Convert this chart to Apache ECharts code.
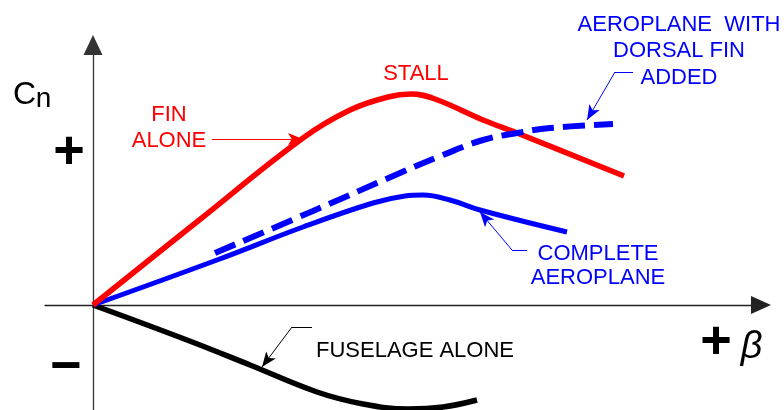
<!DOCTYPE html>
<html>
<head>
<meta charset="utf-8">
<script src="https://cdn.jsdelivr.net/npm/echarts@6/dist/echarts.min.js"></script>
<style>
  html, body { margin: 0; padding: 0; background: #fff; }
  #main { width: 784px; height: 410px; }
</style>
</head>
<body>
<div id="main"></div>
<script>
// sideslip angle beta vs yawing moment Cn (arbitrary units)
var finAlone = [[0, 0], [105, 84], [210, 167], [257, 195], [295, 208], [318, 211], [342, 206],
  [390, 185], [424, 172], [531, 129]];
var dorsalFin = [[122, 52], [220, 94], [307, 132], [350, 150], [390, 165], [424, 172],
  [457, 177], [520, 181]];
var completeAeroplane = [[0, 0], [124, 45], [210, 78], [280, 102], [312, 109], [330, 110],
  [357, 105], [387, 95], [474, 73]];
var fuselageAlone = [[0, 0], [94, -35], [157, -60], [224, -87], [270, -99], [315, -104],
  [350, -102], [384, -95]];

// leader lines for the notes: [elbow start, elbow, arrow tip]
var finLeader = [[119, 166], [119, 166], [210, 166]];
var dorsalLeader = [[540, 233], [522, 233], [494, 185]];
var completeLeader = [[434, 55], [419, 55], [387, 93]];
var fuselageLeader = [[219, -22], [199, -22], [169, -62]];

var FONT = "Liberation Sans, Arial, sans-serif";

function leader(pts) {
  return [
    [{ coord: pts[0], symbol: "none" }, { coord: pts[1], symbol: "none" }],
    [{ coord: pts[1], symbol: "none" }, { coord: pts[2], symbol: "arrow", symbolSize: [9, 15] }]
  ];
}

function markLines(pts, color) {
  return {
    silent: true,
    animation: false,
    symbol: ["none", "none"],
    label: { show: false },
    emphasis: { disabled: true },
    lineStyle: { color: color, width: 1, type: "solid" },
    data: leader(pts)
  };
}

function txt(text, x, y, size, color, extra) {
  var style = {
    text: text, x: x, y: y,
    font: (extra && extra.font) || ("normal " + size + "px " + FONT),
    fill: color, textAlign: "center", textVerticalAlign: "middle",
    lineHeight: (extra && extra.lineHeight) || size
  };
  return { type: "text", silent: true, style: style };
}

var chartDom = document.getElementById("main");
var myChart = echarts.init(chartDom);

var option = {
  animation: false,
  grid: { left: 45, right: 23, top: 45, bottom: 0 },
  xAxis: {
    type: "value", min: -48, max: 668,
    axisLine: { show: true, symbol: ["none", "triangle"], symbolSize: [18, 20],
      lineStyle: { color: "#222", width: 1.3 } },
    axisTick: { show: false }, axisLabel: { show: false }, splitLine: { show: false }
  },
  yAxis: {
    type: "value", min: -105, max: 260,
    axisLine: { show: true, symbol: ["none", "triangle"], symbolSize: [19, 20],
      lineStyle: { color: "#333", width: 1.3 } },
    axisTick: { show: false }, axisLabel: { show: false }, splitLine: { show: false }
  },
  series: [
    {
      name: "Fuselage alone", type: "line", data: fuselageAlone, smooth: 0.4,
      showSymbol: false,
      lineStyle: { color: "#000", width: 5.5 },
      markLine: markLines(fuselageLeader, "#000")
    },
    {
      name: "Complete aeroplane", type: "line", data: completeAeroplane, smooth: 0.4,
      showSymbol: false,
      lineStyle: { color: "#0000ff", width: 5 },
      markLine: markLines(completeLeader, "#0000ff")
    },
    {
      name: "Fin alone", type: "line", data: finAlone, smooth: 0.4,
      showSymbol: false,
      lineStyle: { color: "#ff0000", width: 5.5 },
      markLine: markLines(finLeader, "#ff0000")
    },
    {
      name: "Dorsal fin added", type: "line", data: dorsalFin, smooth: 0.4,
      showSymbol: false,
      lineStyle: { color: "#0000ff", width: 6, type: [22, 9] },
      markLine: markLines(dorsalLeader, "#0000ff")
    }
  ],
  graphic: [
    txt("C", 24.5, 95.5, 32, "#000"),
    txt("n", 43.5, 99, 28, "#000"),
    txt("+", 69, 153, 54, "#000", { font: "bold 54px " + FONT }),
    txt("\u2212", 66, 368, 54, "#000", { font: "bold 54px " + FONT }),
    txt("+", 716, 343, 54, "#000", { font: "bold 54px " + FONT }),
    txt("\u03B2", 751.5, 347.5, 38, "#000", { font: "italic 38px " + FONT }),
    txt("FIN\nALONE", 169, 128, 22, "#ff0000", { lineHeight: 26 }),
    txt("STALL", 416, 74, 22, "#ff0000"),
    txt("AEROPLANE  WITH\nDORSAL FIN\nADDED", 679, 51, 22, "#0000ff", { lineHeight: 26.5 }),
    txt("COMPLETE\nAEROPLANE", 598, 266, 22, "#0000ff", { lineHeight: 24 }),
    txt("FUSELAGE ALONE", 415, 351, 22, "#000")
  ]
};

window.addEventListener("resize", function () {
  myChart.resize();
});
myChart.setOption(option);
</script>
</body>
</html>
